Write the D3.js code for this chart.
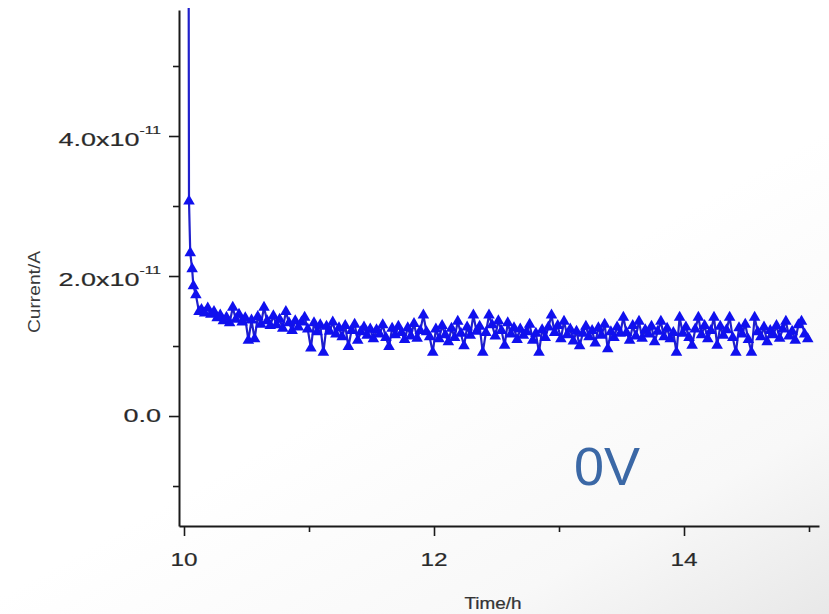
<!DOCTYPE html>
<html>
<head>
<meta charset="utf-8">
<script src="https://cdn.jsdelivr.net/npm/d3@7"></script>
<style>
  html, body { margin: 0; padding: 0; background: #ffffff; }
  svg { display: block; }
  text { font-family: "Liberation Sans", Arial, sans-serif; }
</style>
</head>
<body>
<svg id="chart" width="829" height="614"></svg>
<script>
// ---------------- data (current in units of 1e-11 A) ----------------
const timeH = [
  10.035, 10.040, 10.050, 10.065, 10.075, 10.095, 10.120,
  10.140, 10.165, 10.190, 10.215, 10.240, 10.265, 10.290, 10.315,
  10.340, 10.365, 10.390, 10.415, 10.440, 10.465, 10.490, 10.515,
  10.540, 10.565, 10.590, 10.615, 10.640, 10.665, 10.690, 10.715,
  10.740, 10.765, 10.790, 10.815, 10.840, 10.865, 10.890, 10.915,
  10.940, 10.965, 10.990, 11.015, 11.040, 11.065, 11.090, 11.115,
  11.140, 11.165, 11.190, 11.215, 11.240, 11.265, 11.290, 11.315,
  11.340, 11.365, 11.390, 11.415, 11.440, 11.465, 11.490, 11.515,
  11.540, 11.565, 11.590, 11.615, 11.640, 11.665, 11.690, 11.715,
  11.740, 11.765, 11.790, 11.815, 11.840, 11.865, 11.890, 11.915,
  11.940, 11.965, 11.990, 12.015, 12.040, 12.065, 12.090, 12.115,
  12.140, 12.165, 12.190, 12.215, 12.240, 12.265, 12.290, 12.315,
  12.340, 12.365, 12.390, 12.415, 12.440, 12.465, 12.490, 12.515,
  12.540, 12.565, 12.590, 12.615, 12.640, 12.665, 12.690, 12.715,
  12.740, 12.765, 12.790, 12.815, 12.840, 12.865, 12.890, 12.915,
  12.940, 12.965, 12.990, 13.015, 13.040, 13.065, 13.090, 13.115,
  13.140, 13.165, 13.190, 13.215, 13.240, 13.265, 13.290, 13.315,
  13.340, 13.365, 13.390, 13.415, 13.440, 13.465, 13.490, 13.515,
  13.540, 13.565, 13.590, 13.615, 13.640, 13.665, 13.690, 13.715,
  13.740, 13.765, 13.790, 13.815, 13.840, 13.865, 13.890, 13.915,
  13.940, 13.965, 13.990, 14.015, 14.040, 14.065, 14.090, 14.115,
  14.140, 14.165, 14.190, 14.215, 14.240, 14.265, 14.290, 14.315,
  14.340, 14.365, 14.390, 14.415, 14.440, 14.465, 14.490, 14.515,
  14.540, 14.565, 14.590, 14.615, 14.640, 14.665, 14.690, 14.715,
  14.740, 14.765, 14.790, 14.815, 14.840, 14.865, 14.890, 14.915,
  14.940, 14.965, 14.990
];
const currentE11 = [
  9.00, 3.07, 2.33, 2.10, 1.86, 1.73, 1.49,
  1.52, 1.47, 1.54, 1.45, 1.49, 1.40, 1.44, 1.36,
  1.41, 1.33, 1.55, 1.38, 1.45, 1.34, 1.40, 1.08,
  1.37, 1.10, 1.42, 1.31, 1.55, 1.36, 1.29, 1.43,
  1.30, 1.38, 1.25, 1.49, 1.33, 1.22, 1.36, 1.27,
  1.34, 1.41, 1.24, 0.97, 1.33, 1.20, 1.30, 0.91,
  1.28, 1.21, 1.34, 1.17, 1.26, 1.13, 1.29, 0.99,
  1.22, 1.31, 1.08, 1.20, 1.27, 1.15, 1.24, 1.10,
  1.23, 1.17, 1.30, 1.12, 0.99, 1.25, 1.16, 1.28,
  1.19, 1.09, 1.26, 1.14, 1.32, 1.11, 1.22, 1.44,
  1.20, 1.13, 0.91, 1.24, 1.10, 1.29, 1.16, 1.06,
  1.25, 1.12, 1.35, 1.18, 1.00, 1.27, 1.15, 1.44,
  1.21, 1.28, 0.91, 1.19, 1.44, 1.30, 1.14, 1.36,
  1.22, 1.01, 1.33, 1.17, 1.26, 1.09, 1.24, 1.15,
  1.20, 1.31, 1.08, 1.18, 0.91, 1.23, 1.12, 1.27,
  1.44, 1.19, 1.29, 1.10, 1.35, 1.16, 1.24, 1.07,
  1.21, 1.00, 1.18, 1.28, 1.13, 1.22, 1.04, 1.26,
  1.15, 1.31, 0.96, 1.20, 1.12, 1.27, 1.18, 1.41,
  1.19, 1.08, 1.29, 1.14, 1.35, 1.11, 1.23, 1.17,
  1.28, 1.06, 1.21, 1.35, 1.13, 1.25, 1.10, 1.19,
  0.91, 1.41, 1.18, 1.27, 1.12, 1.01, 1.24, 1.41,
  1.16, 1.29, 1.10, 1.22, 1.41, 1.01, 1.28, 1.15,
  1.23, 1.41, 1.12, 0.91, 1.26, 1.17, 1.31, 1.09,
  0.91, 1.41, 1.20, 1.13, 1.27, 1.06, 1.22, 1.16,
  1.29, 1.11, 1.24, 1.35, 1.14, 1.21, 1.08, 1.30,
  1.35, 1.17, 1.10
];
const xTicksMajor = [10, 12, 14];
const xTicksMinor = [11, 13, 15];
const xTickLabels = ["10", "12", "14"];
const yTicksMajor = [0, 2, 4];
const yTicksMinor = [-1, 1, 3, 5];
const yTickMantissa = ["0.0", "2.0x10", "4.0x10"];
const yTickExponent = ["", "-11", "-11"];
const xDomain = [9.96, 15.08];
const yDomain = [-1.571, 5.8];
const xTitle = "Time/h";
const yTitle = "Current/A";
const annotation = "0V";

// ---------------- drawing ----------------
const svg = d3.select("#chart");
const defs = svg.append("defs");

const grad = defs.append("linearGradient").attr("id", "shade")
  .attr("x1", 0.62).attr("y1", 0.5).attr("x2", 1).attr("y2", 1);
grad.append("stop").attr("offset", 0).attr("stop-color", "#ffffff");
grad.append("stop").attr("offset", 0.6).attr("stop-color", "#f8f8f8");
grad.append("stop").attr("offset", 1).attr("stop-color", "#e8e8e8");
svg.append("rect").attr("width", 829).attr("height", 614).attr("fill", "url(#shade)");

const x = d3.scaleLinear().domain(xDomain).range([179, 819]);
const y = d3.scaleLinear().domain(yDomain).range([526, 10]);

defs.append("clipPath").attr("id", "plotclip")
  .append("rect").attr("x", 179).attr("y", 8).attr("width", 640).attr("height", 518);

// data
const pts = timeH.map((t, i) => [t, currentE11[i]]);
const plot = svg.append("g").attr("clip-path", "url(#plotclip)");
plot.append("path")
  .datum(pts)
  .attr("fill", "none")
  .attr("stroke", "#2020cc")
  .attr("stroke-width", 2.2)
  .attr("stroke-linejoin", "round")
  .attr("d", d3.line().x(d => x(d[0])).y(d => y(d[1])));

const tri = d3.symbol().type(d3.symbolTriangle).size(58);
plot.selectAll("path.mk")
  .data(pts)
  .join("path")
  .attr("class", "mk")
  .attr("d", tri)
  .attr("fill", "#1010ee")
  .attr("transform", d => `translate(${x(d[0])},${y(d[1])})`);

// axes
const axisColor = "#1a1a1a";
function styleAxis(g, keepDomain) {
  g.selectAll("text").remove();
  g.selectAll(".tick line").attr("stroke", axisColor).attr("stroke-width", 1.6);
  if (keepDomain) g.select(".domain").attr("stroke", axisColor).attr("stroke-width", 2);
  else g.select(".domain").remove();
}
svg.append("g").attr("transform", "translate(0,526)")
  .call(d3.axisBottom(x).tickValues(xTicksMinor).tickSize(6).tickSizeOuter(0).tickFormat(""))
  .call(g => styleAxis(g, false));
svg.append("g").attr("transform", "translate(0,526)")
  .call(d3.axisBottom(x).tickValues(xTicksMajor).tickSize(10).tickSizeOuter(0).tickFormat(""))
  .call(g => styleAxis(g, true));
svg.append("g").attr("transform", "translate(179,0)")
  .call(d3.axisLeft(y).tickValues(yTicksMinor).tickSize(6).tickSizeOuter(0).tickFormat(""))
  .call(g => styleAxis(g, false));
svg.append("g").attr("transform", "translate(179,0)")
  .call(d3.axisLeft(y).tickValues(yTicksMajor).tickSize(10).tickSizeOuter(0).tickFormat(""))
  .call(g => styleAxis(g, true));

// x tick labels
svg.append("g").selectAll("text")
  .data(xTicksMajor)
  .join("text")
  .attr("transform", d => `translate(${x(d)},566) scale(1.28,1)`)
  .attr("text-anchor", "middle")
  .attr("font-size", 19)
  .attr("fill", "#2a2a2a")
  .attr("stroke", "#2a2a2a")
  .attr("stroke-width", 0.2)
  .text((d, i) => xTickLabels[i]);

// y tick labels
const yl = svg.append("g").selectAll("text")
  .data(yTicksMajor)
  .join("text")
  .attr("transform", (d, i) => `translate(161,${y(d) + (yTickExponent[i] ? 10 : 6)}) scale(1.42,1)`)
  .attr("text-anchor", "end")
  .attr("font-size", 19)
  .attr("fill", "#2a2a2a")
  .attr("stroke", "#2a2a2a")
  .attr("stroke-width", 0.2);
yl.append("tspan").text((d, i) => yTickMantissa[i]);
yl.filter((d, i) => yTickExponent[i] !== "")
  .append("tspan")
  .attr("font-size", 11)
  .attr("dy", -12)
  .text(d => yTickExponent[yTicksMajor.indexOf(d)]);

// axis titles
svg.append("text")
  .attr("transform", "translate(493,609) scale(1.18,1)")
  .attr("text-anchor", "middle")
  .attr("font-size", 16)
  .attr("fill", "#333")
  .attr("stroke", "#333")
  .attr("stroke-width", 0.25)
  .text(xTitle);
svg.append("text")
  .attr("transform", "translate(40,292) rotate(-90) scale(1.28,1.15)")
  .attr("text-anchor", "middle")
  .attr("font-size", 15)
  .attr("fill", "#3a3a3a")
  .text(yTitle);

// annotation
svg.append("text")
  .attr("x", 574).attr("y", 485)
  .attr("font-family", "'Open Sans', sans-serif")
  .attr("font-size", 54)
  .attr("fill", "#3b68a6")
  .text(annotation);
</script>
</body>
</html>
